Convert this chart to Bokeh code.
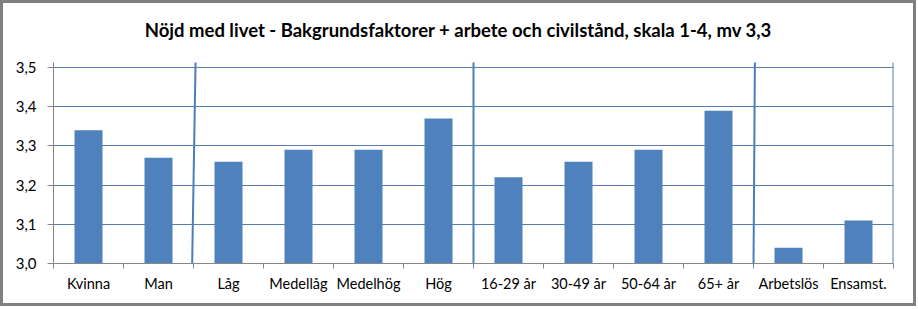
from bokeh.plotting import figure
from bokeh.models import FixedTicker, Range1d, ColumnDataSource, Div
from bokeh.layouts import column
from bokeh.embed import file_html
from bokeh.resources import INLINE

categories = ["Kvinna", "Man", "Låg", "Medellåg", "Medelhög", "Hög",
              "16-29 år", "30-49 år", "50-64 år", "65+ år", "Arbetslös", "Ensamst."]
values = [3.34, 3.27, 3.26, 3.29, 3.29, 3.37, 3.22, 3.26, 3.29, 3.39, 3.04, 3.11]
y_ticks = [3.0, 3.1, 3.2, 3.3, 3.4, 3.5]
y_labels = ["3,0", "3,1", "3,2", "3,3", "3,4", "3,5"]
# group separators (category boundary index)
sep_top = [2.03, 6.0, 10.02, 12.0]
sep_bottom = [1.98, 6.0, 10.0, 12.0]

title = "Nöjd med livet - Bakgrundsfaktorer + arbete och civilstånd, skala 1-4, mv 3,3"

xpos = [i + 0.5 for i in range(len(categories))]
src = ColumnDataSource(dict(x=xpos, top=values))

head = Div(text=title, width=910, height=49, margin=(0, 0, 0, 0),
           styles={"font-family": "Lato", "font-weight": "bold", "font-size": "18.5px",
                   "text-align": "center", "color": "#000000",
                   "line-height": "54px", "background": "#ffffff",
                   "overflow": "visible"})

p = figure(width=910, height=251, output_backend="svg", toolbar_location=None,
           x_range=Range1d(0, 12), y_range=Range1d(3.0, 3.513),
           min_border_left=50, min_border_right=20,
           min_border_top=10, min_border_bottom=40)

p.vbar(x="x", top="top", bottom=3.0, width=0.4, source=src,
       fill_color="#4F81BD", line_color=None)

p.segment(x0=sep_bottom, y0=[2.99] * 4, x1=sep_top, y1=[3.52] * 4,
          line_color="#4A7EBB", line_width=2)

# x axis: labels at centres, ticks at boundaries
xt = FixedTicker(ticks=xpos, minor_ticks=list(range(13)))
p.xaxis.ticker = xt
p.xaxis.major_label_overrides = {x: c for x, c in zip(xpos, categories)}
p.xaxis.major_tick_out = 0
p.xaxis.major_tick_in = 0
p.xaxis.minor_tick_out = 5
p.xaxis.minor_tick_in = 0
p.xaxis.axis_line_color = "#868686"
p.xaxis.minor_tick_line_color = "#868686"
p.xaxis.major_label_text_font = "Lato"
p.xaxis.major_label_text_font_size = "14.5px"
p.xaxis.major_label_text_color = "#000000"
p.xaxis.major_label_standoff = 6

p.yaxis.ticker = FixedTicker(ticks=y_ticks, minor_ticks=[])
p.yaxis.major_label_overrides = {t: l for t, l in zip(y_ticks, y_labels)}
p.yaxis.major_tick_out = 6
p.yaxis.major_tick_in = 0
p.yaxis.axis_line_color = "#868686"
p.yaxis.major_tick_line_color = "#868686"
p.yaxis.major_label_text_font = "Lato"
p.yaxis.major_label_text_font_size = "15px"
p.yaxis.major_label_text_color = "#000000"
p.yaxis.major_label_standoff = 11

p.xgrid.grid_line_color = None
p.ygrid.ticker = FixedTicker(ticks=y_ticks[1:])
p.ygrid.grid_line_color = "#5A7CB0"
p.ygrid.grid_line_width = 1
p.outline_line_color = None

layout = column(head, p, spacing=0,
                styles={"border": "3px solid #808080", "background": "#ffffff"})

open("out.html", "w").write(file_html(layout, INLINE))
